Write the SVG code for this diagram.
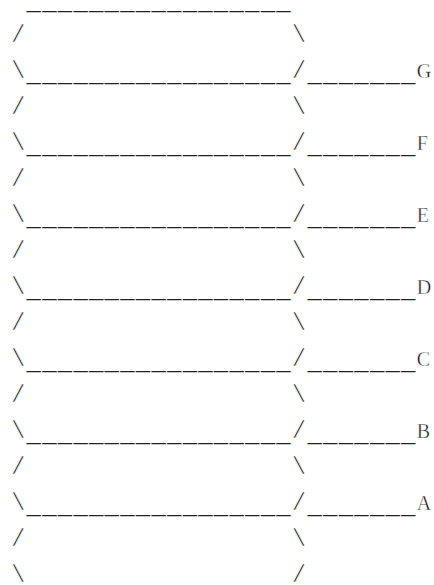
<svg xmlns="http://www.w3.org/2000/svg" width="434" height="585" viewBox="0 0 434 585">
<style>
text { font-family: "Liberation Mono", "Courier New", monospace; font-size: 24px; letter-spacing: 1.2px; fill: #111; stroke: #fff; stroke-width: 0.6px; white-space: pre; }
.u { stroke: none; fill: #222; }
.l { font-family: "Liberation Serif", "Times New Roman", serif; font-size: 20px; stroke-width: 0.4px; }
</style>
<rect width="434" height="585" fill="#fff"/>
<g id="art" xml:space="preserve">
<text x="11" y="6"> <tspan dy="4" class="u">_________________</tspan></text>
<text x="11" y="42">/                 \</text>
<text x="11" y="78">\<tspan dy="4" class="u">_________________</tspan><tspan dy="-4">/</tspan><tspan dy="4" class="u">_______</tspan><tspan dy="-4" class="l">G</tspan></text>
<text x="11" y="114">/                 \</text>
<text x="11" y="150">\<tspan dy="4" class="u">_________________</tspan><tspan dy="-4">/</tspan><tspan dy="4" class="u">_______</tspan><tspan dy="-4" class="l">F</tspan></text>
<text x="11" y="186">/                 \</text>
<text x="11" y="222">\<tspan dy="4" class="u">_________________</tspan><tspan dy="-4">/</tspan><tspan dy="4" class="u">_______</tspan><tspan dy="-4" class="l">E</tspan></text>
<text x="11" y="258">/                 \</text>
<text x="11" y="294">\<tspan dy="4" class="u">_________________</tspan><tspan dy="-4">/</tspan><tspan dy="4" class="u">_______</tspan><tspan dy="-4" class="l">D</tspan></text>
<text x="11" y="330">/                 \</text>
<text x="11" y="366">\<tspan dy="4" class="u">_________________</tspan><tspan dy="-4">/</tspan><tspan dy="4" class="u">_______</tspan><tspan dy="-4" class="l">C</tspan></text>
<text x="11" y="402">/                 \</text>
<text x="11" y="438">\<tspan dy="4" class="u">_________________</tspan><tspan dy="-4">/</tspan><tspan dy="4" class="u">_______</tspan><tspan dy="-4" class="l">B</tspan></text>
<text x="11" y="474">/                 \</text>
<text x="11" y="510">\<tspan dy="4" class="u">_________________</tspan><tspan dy="-4">/</tspan><tspan dy="4" class="u">_______</tspan><tspan dy="-4" class="l">A</tspan></text>
<text x="11" y="546">/                 \</text>
<text x="11" y="582">\                 /</text>
</g>
</svg>
